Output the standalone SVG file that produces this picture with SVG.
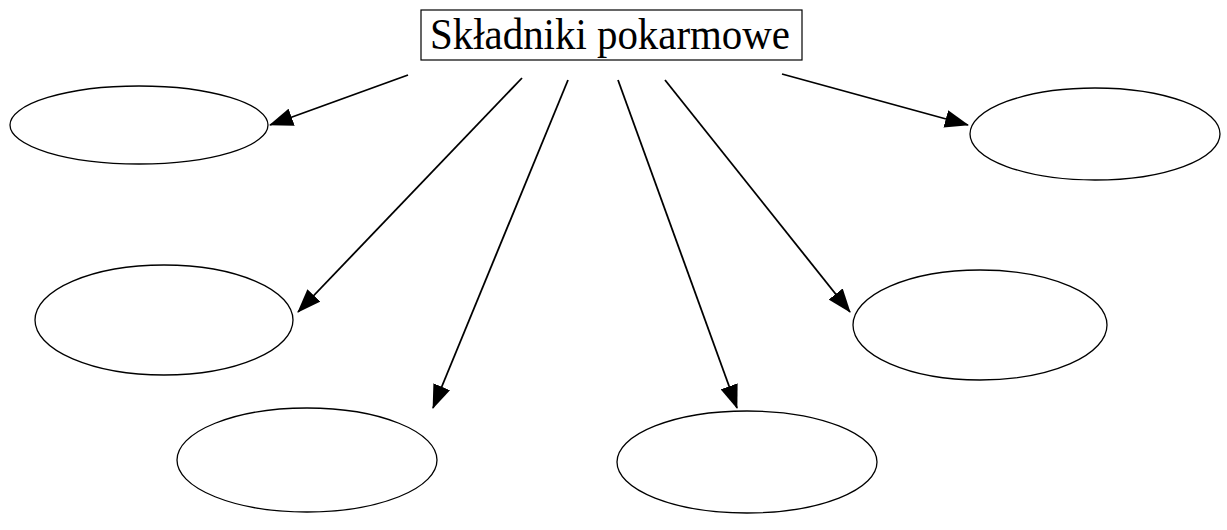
<svg xmlns="http://www.w3.org/2000/svg" width="1227" height="530" viewBox="0 0 1227 530">
<style>
.node{fill:none;stroke:#000;stroke-width:1.3}
.edge{stroke:#000;stroke-width:1.8;fill:none}
.title{font-family:"Liberation Serif","Times New Roman",serif;font-size:44px;fill:#000}
</style>
<defs>
<marker id="ah" viewBox="0 0 24 18" refX="23" refY="9" markerWidth="24" markerHeight="18" markerUnits="userSpaceOnUse" orient="auto">
<path d="M0,0 L24,9 L0,18 Z" fill="#000"/>
</marker>
</defs>
<rect width="1227" height="530" fill="#fff"/>
<g id="title">
<rect x="421" y="10" width="381" height="50" fill="none" stroke="#000" stroke-width="1.2"/>
<text class="title" x="430" y="49" textLength="360" lengthAdjust="spacingAndGlyphs">Składniki pokarmowe</text>
</g>
<g id="e1"><ellipse class="node" cx="139" cy="125" rx="129" ry="39"/></g>
<g id="e2"><ellipse class="node" cx="1095" cy="134" rx="125" ry="46"/></g>
<g id="e3"><ellipse class="node" cx="164" cy="320" rx="129" ry="55"/></g>
<g id="e4"><ellipse class="node" cx="980" cy="325" rx="127" ry="55"/></g>
<g id="e5"><ellipse class="node" cx="307" cy="460" rx="130" ry="52"/></g>
<g id="e6"><ellipse class="node" cx="747" cy="462" rx="130" ry="51"/></g>
<g id="connectors">
<line class="edge" x1="408" y1="75" x2="270" y2="125" marker-end="url(#ah)"/>
<line class="edge" x1="522" y1="78" x2="298" y2="312" marker-end="url(#ah)"/>
<line class="edge" x1="568" y1="80" x2="433" y2="408" marker-end="url(#ah)"/>
<line class="edge" x1="618" y1="80" x2="737" y2="408" marker-end="url(#ah)"/>
<line class="edge" x1="665" y1="80" x2="850" y2="312" marker-end="url(#ah)"/>
<line class="edge" x1="782" y1="74" x2="968" y2="125" marker-end="url(#ah)"/>
</g>
</svg>
